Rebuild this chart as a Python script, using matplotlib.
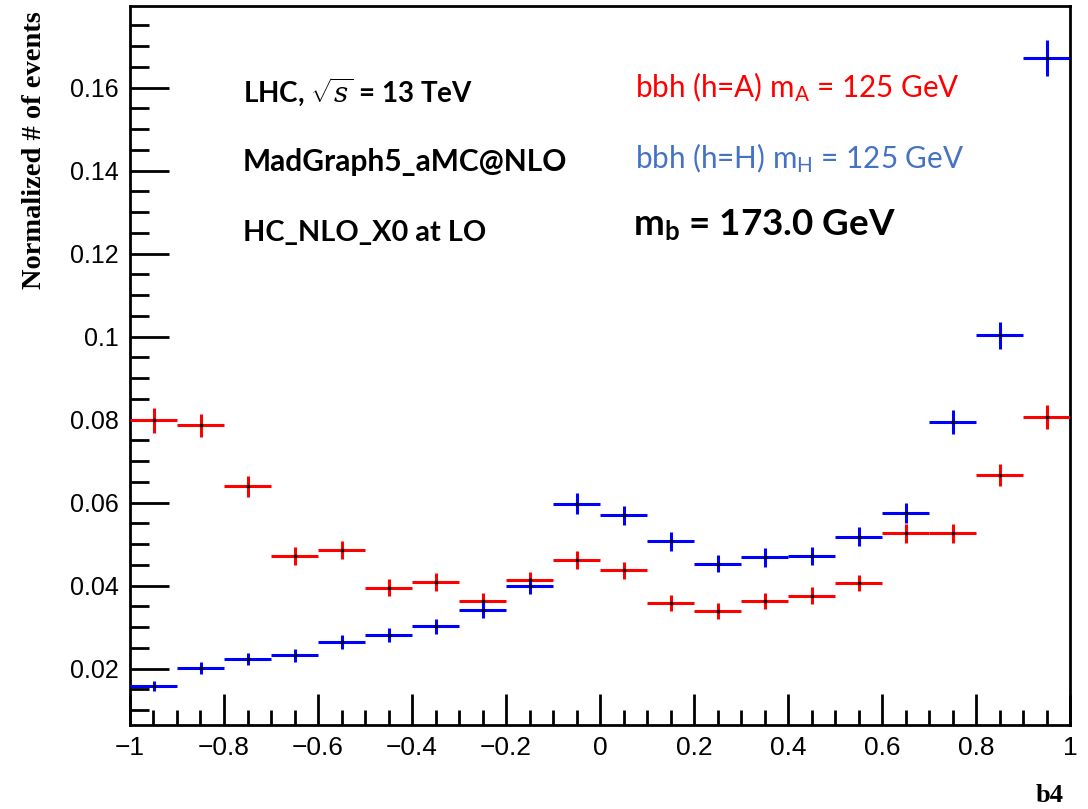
import numpy as np
import matplotlib
matplotlib.use("Agg")
import matplotlib.pyplot as plt
from matplotlib.ticker import MultipleLocator, FuncFormatter

# ---- data ----
bin_centers = [-0.95, -0.85, -0.75, -0.65, -0.55, -0.45, -0.35, -0.25, -0.15, -0.05,
               0.05, 0.15, 0.25, 0.35, 0.45, 0.55, 0.65, 0.75, 0.85, 0.95]
bin_half_width = 0.05

red_values = [0.0798, 0.0786, 0.0639, 0.0471, 0.0486, 0.0395, 0.0409, 0.0363, 0.0413, 0.0462,
              0.0437, 0.0358, 0.0339, 0.0363, 0.0376, 0.0406, 0.0526, 0.0526, 0.0667, 0.0807]
red_errors = [0.0029, 0.0028, 0.0026, 0.0022, 0.0022, 0.0020, 0.0021, 0.0019, 0.0020, 0.0022,
              0.0021, 0.0019, 0.0019, 0.0019, 0.0020, 0.0020, 0.0023, 0.0023, 0.0026, 0.0029]

blue_values = [0.0158, 0.0201, 0.0223, 0.0232, 0.0265, 0.0281, 0.0302, 0.0341, 0.0399, 0.0597,
               0.0569, 0.0507, 0.0453, 0.0468, 0.0471, 0.0518, 0.0575, 0.0795, 0.1003, 0.1671]
blue_errors = [0.0013, 0.0014, 0.0015, 0.0016, 0.0017, 0.0017, 0.0018, 0.0019, 0.0020, 0.0025,
               0.0024, 0.0023, 0.0021, 0.0022, 0.0022, 0.0023, 0.0024, 0.0029, 0.0032, 0.0043]

x_label = "b4"
y_label = "Normalized # of events"

plt.rcParams['mathtext.fontset'] = 'custom'
plt.rcParams['mathtext.rm'] = 'Lato'
plt.rcParams['mathtext.it'] = 'DejaVu Serif:italic'
plt.rcParams['mathtext.bf'] = 'Lato:bold'
plt.rcParams['axes.unicode_minus'] = True

fig = plt.figure(figsize=(10.88, 8.09), dpi=100)
ax = fig.add_axes([130/1088, 1 - 725/809, (1070-130)/1088, (725-6)/809])

for vals, errs, col in [(red_values, red_errors, '#ff0000'), (blue_values, blue_errors, '#0000ff')]:
    ax.errorbar(bin_centers, vals, xerr=bin_half_width, yerr=errs, fmt='none',
                ecolor=col, elinewidth=2.2, capsize=0, zorder=3)
    ax.plot(bin_centers, vals, ls='none', marker='s', ms=1.4, color='black',
            mec='black', zorder=4)

ax.set_xlim(-1, 1)
ax.set_ylim(0.0064, 0.1797)

for s in ax.spines.values():
    s.set_linewidth(2)

ax.xaxis.set_major_locator(MultipleLocator(0.2))
ax.xaxis.set_minor_locator(MultipleLocator(0.05))
ax.yaxis.set_major_locator(MultipleLocator(0.02))
ax.yaxis.set_minor_locator(MultipleLocator(0.005))

fmt = FuncFormatter(lambda v, p: f"{v:g}".replace('-', '\u2212') if abs(v) > 1e-9 else "0")
ax.xaxis.set_major_formatter(fmt)
ax.yaxis.set_major_formatter(fmt)

ax.tick_params(axis='x', which='major', direction='in', length=22, width=2, top=False,
               labelsize=19, pad=8)
ax.tick_params(axis='x', which='minor', direction='in', length=11, width=2, top=False)
ax.tick_params(axis='y', which='major', direction='in', length=28, width=2, right=False,
               labelsize=18, pad=8)
ax.tick_params(axis='y', which='minor', direction='in', length=14, width=2, right=False)
for lab in ax.get_xticklabels():
    lab.set_family('Liberation Sans')
for lab in ax.get_yticklabels():
    lab.set_family('Liberation Sans')

fig.text(35/1088, 1 - 150/809, y_label, rotation=90, ha='center', va='center',
         family='Liberation Serif', fontweight='bold', fontsize=20.5)
fig.text(1050/1088, 1 - 796/809, x_label, ha='center', va='center',
         family='Liberation Serif', fontweight='bold', fontsize=19)

def px(x, y):
    return (x/1088, 1 - y/809)

fig.text(*px(243, 92), r"LHC, $\sqrt{s}$ = 13 TeV", ha='left', va='center',
         family='Lato', fontweight='bold', fontsize=20)
fig.text(*px(243, 162), "MadGraph5_aMC@NLO", ha='left', va='center',
         family='Lato', fontweight='bold', fontsize=21.5)
fig.text(*px(243, 233), "HC_NLO_X0 at LO", ha='left', va='center',
         family='Lato', fontweight='bold', fontsize=20.8)

fig.text(*px(635, 87), r"bbh (h=A) m$_{\mathrm{A}}$ = 125 GeV", ha='left', va='center',
         family='Lato', fontsize=21.3, color='#ff0000')
fig.text(*px(635, 158), r"bbh (h=H) m$_{\mathrm{H}}$ = 125 GeV", ha='left', va='center',
         family='Lato', fontsize=21.3, color='#4472c4')
fig.text(*px(633, 225), r"m$_{\mathbf{b}}$ = 173.0 GeV", ha='left', va='center',
         family='Lato', fontweight='bold', fontsize=26.5, color='black')

fig.savefig("out.png", dpi=100)
